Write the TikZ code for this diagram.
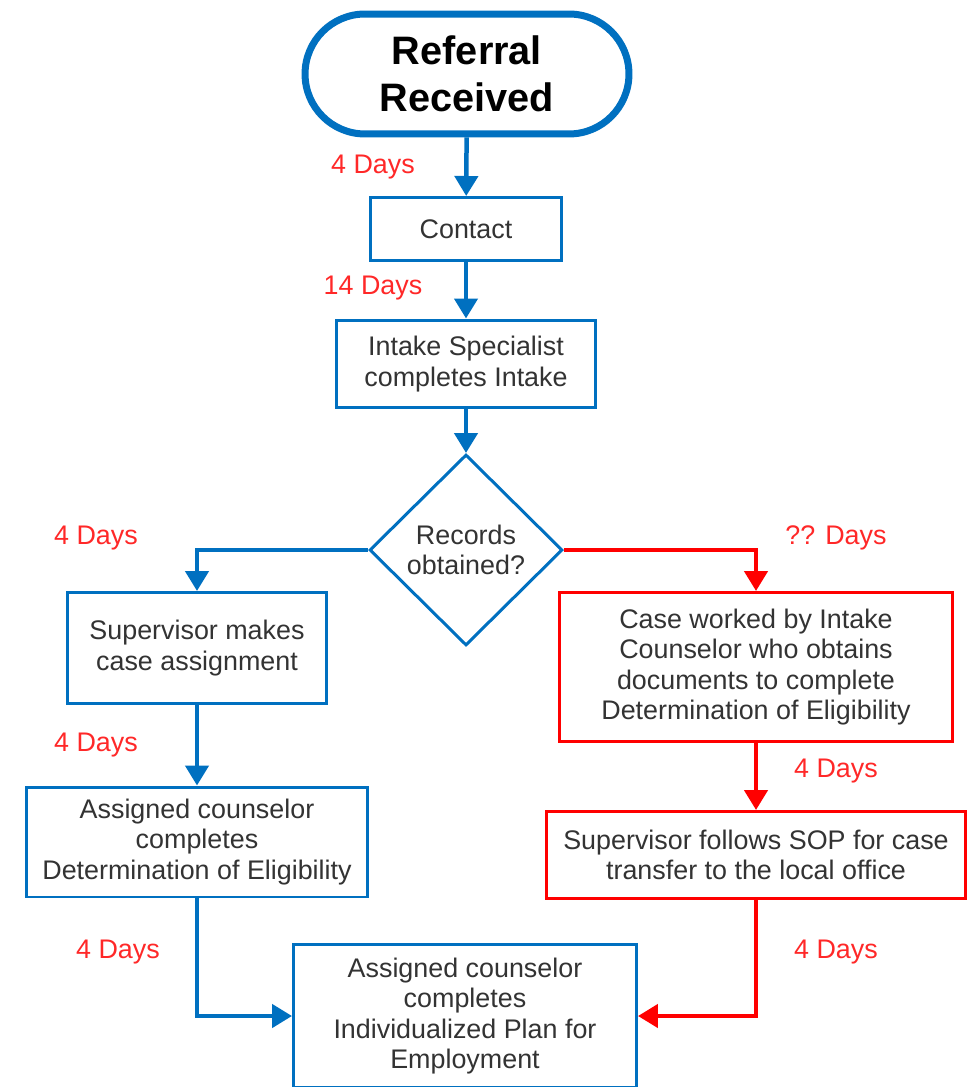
\documentclass[tikz,border=0pt]{standalone}
\usepackage{fontspec}
\setmainfont{Liberation Sans}
\usetikzlibrary{shapes.geometric,arrows.meta}
\definecolor{flowblue}{RGB}{0,112,192}
\definecolor{flowred}{RGB}{255,0,0}
\definecolor{daysred}{RGB}{255,40,40}
\definecolor{textgray}{RGB}{51,51,51}
\tikzset{
  box/.style={draw=flowblue, line width=0.06cm, fill=white, align=center, text=textgray,
    inner sep=2pt, font=\fontsize{15.3}{17.2}\selectfont},
  redbox/.style={box, draw=flowred},
  decision/.style={box, diamond, aspect=1, inner sep=0pt},
  terminal/.style={draw=flowblue, line width=0.14cm, rounded corners=1.2cm, align=center,
    font=\fontsize{22.6}{26.5}\selectfont\bfseries, minimum width=6.48cm, minimum height=2.4cm},
  flow/.style={color=flowblue, line width=0.09cm, -{Triangle[width=0.46cm,length=0.4cm]}},
  redflow/.style={flow, color=flowred},
  days/.style={text=daysred, font=\fontsize{15.3}{17.2}\selectfont}
}
\begin{document}
\begin{tikzpicture}[x=0.02cm, y=-0.02cm]
  \useasboundingbox (0,0) rectangle (972,1087);
  % boxes
  \node[terminal] (start) at (467,74) {Referral\\Received};
  \node[box, minimum width=3.84cm, minimum height=1.26cm] (contact) at (466,229) {Contact};
  \node[box, minimum width=5.18cm, minimum height=1.76cm] (intake) at (466,364) {Intake Specialist\\completes Intake};
  \node[decision, minimum width=3.86cm, minimum height=3.82cm] (records) at (466,550) {Records\\obtained?};
  \node[box, minimum width=5.2cm, minimum height=2.22cm] (supervisor) at (197,648) {Supervisor makes\\case assignment};
  \node[box, minimum width=6.84cm, minimum height=2.2cm] (assigned) at (197,842) {Assigned counselor\\completes\\Determination of Eligibility};
  \node[redbox, minimum width=7.86cm, minimum height=2.98cm] (caseworked) at (756,667) {Case worked by Intake\\Counselor who obtains\\documents to complete\\Determination of Eligibility};
  \node[redbox, minimum width=8.4cm, minimum height=1.74cm] (transfer) at (756,855) {Supervisor follows SOP for case\\transfer to the local office};
  \node[box, minimum width=6.86cm, minimum height=2.86cm] (plan) at (465,1016) {Assigned counselor\\completes\\Individualized Plan for\\Employment};
  % connectors
  \draw[flow] (start) -- (contact);
  \draw[flow] (contact) -- (intake);
  \draw[flow] (intake) -- (records);
  \draw[flow] (records.west) -| (supervisor.north);
  \draw[flow] (supervisor) -- (assigned);
  \draw[flow] (assigned.south) |- (plan.west);
  \draw[redflow] (records.east) -| (caseworked.north);
  \draw[redflow] (caseworked) -- (transfer);
  \draw[redflow] (transfer.south) |- (plan.east);
  % durations
  \node[days] (days1) at (373,167) {4 Days};
  \node[days] (days2) at (373,288) {14 Days};
  \node[days] (days3) at (96,538) {4 Days};
  \node[days] (days4) at (96,745) {4 Days};
  \node[days] (days5) at (118,952) {4 Days};
  \node[days] (days6) at (836,538) {?? Days};
  \node[days] (days7) at (836,771) {4 Days};
  \node[days] (days8) at (836,952) {4 Days};
\end{tikzpicture}
\end{document}
